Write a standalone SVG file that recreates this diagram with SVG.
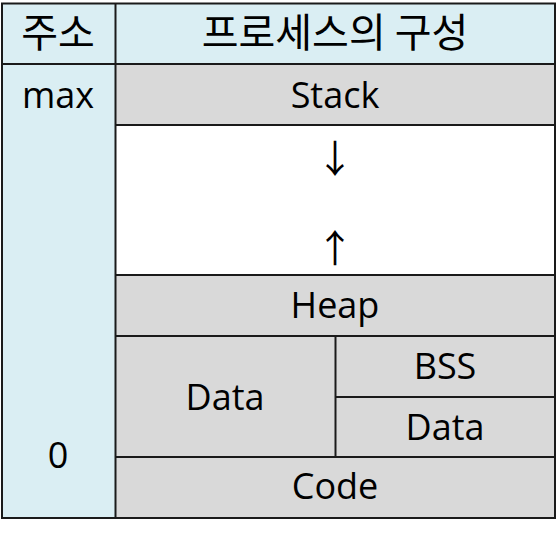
<svg xmlns="http://www.w3.org/2000/svg" width="558" height="533" viewBox="0 0 558 533">
<style>
.hdr{fill:#DAEEF3}
.gray{fill:#D9D9D9}
.wht{fill:#FFFFFF}
.ln{stroke:#1a1a1a;stroke-width:2;fill:none}
text{font-family:"Open Sans","Noto Sans CJK KR",sans-serif;font-size:36px;fill:#000;text-anchor:middle}
.ko{font-family:"Noto Sans CJK KR","Open Sans",sans-serif;font-size:40px}
.arr{font-family:"Noto Sans CJK KR","DejaVu Sans",sans-serif;font-size:38px}
</style>
<rect x="0" y="0" width="558" height="533" fill="#FFFFFF"/>
<g id="col-address">
<rect class="hdr" x="2" y="3.5" width="113.5" height="514.5"/>
<text class="ko" x="58" y="47">주소</text>
<text x="58" y="108">max</text>
<text x="58" y="468">0</text>
</g>
<g id="header">
<rect class="hdr" x="115.5" y="3.5" width="439.5" height="60.5"/>
<text class="ko" x="335" y="47">프로세스의 구성</text>
</g>
<g id="stack">
<rect class="gray" x="115.5" y="64" width="439.5" height="61"/>
<text x="335" y="108">Stack</text>
</g>
<g id="free">
<rect class="wht" x="115.5" y="125" width="439.5" height="150"/>
<text class="arr" x="335" y="172">↓</text>
<text class="arr" x="335" y="262">↑</text>
</g>
<g id="heap">
<rect class="gray" x="115.5" y="275" width="439.5" height="61"/>
<text x="335" y="318">Heap</text>
</g>
<g id="data">
<rect class="gray" x="115.5" y="336" width="220" height="121"/>
<text x="225" y="410">Data</text>
</g>
<g id="bss">
<rect class="gray" x="335.5" y="336" width="219.5" height="61"/>
<text x="445" y="379">BSS</text>
</g>
<g id="data-init">
<rect class="gray" x="335.5" y="397" width="219.5" height="60"/>
<text x="445" y="440">Data</text>
</g>
<g id="code">
<rect class="gray" x="115.5" y="457" width="439.5" height="61"/>
<text x="335" y="499">Code</text>
</g>
<g id="connectors">
<rect class="ln" x="2" y="3.5" width="553" height="514.5"/>
<line class="ln" x1="115.5" y1="3.5" x2="115.5" y2="518"/>
<line class="ln" x1="2" y1="64" x2="555" y2="64"/>
<line class="ln" x1="115.5" y1="125" x2="555" y2="125"/>
<line class="ln" x1="115.5" y1="275" x2="555" y2="275"/>
<line class="ln" x1="115.5" y1="336" x2="555" y2="336"/>
<line class="ln" x1="335.5" y1="336" x2="335.5" y2="457"/>
<line class="ln" x1="335.5" y1="397" x2="555" y2="397"/>
<line class="ln" x1="115.5" y1="457" x2="555" y2="457"/>
</g>
</svg>
